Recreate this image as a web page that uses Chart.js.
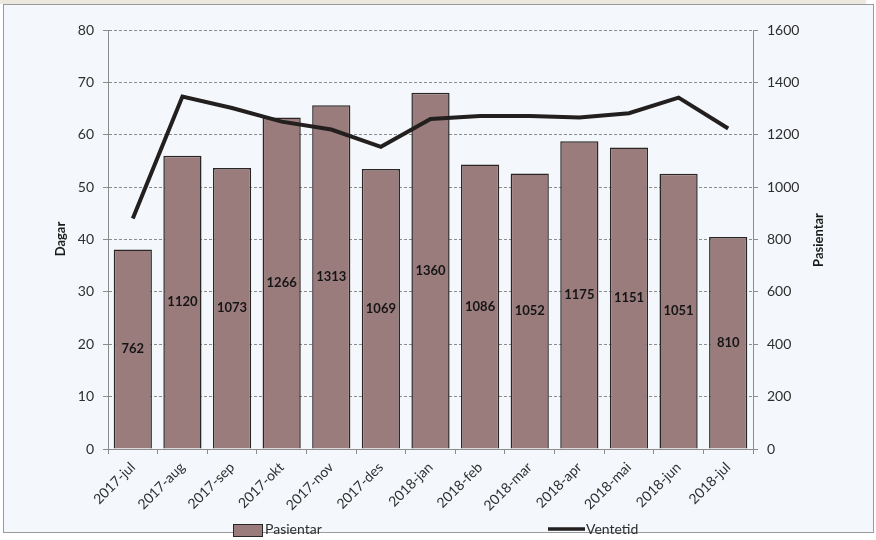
<!DOCTYPE html>
<html>
<head>
<meta charset="utf-8">
<script src="https://cdn.jsdelivr.net/npm/chart.js@4/dist/chart.umd.min.js"></script>
<style>
  html, body { margin: 0; padding: 0; background: #ffffff; }
  #wrap { position: relative; width: 876px; height: 540px; }
</style>
</head>
<body>
<div id="wrap"><canvas id="c" width="876" height="540"></canvas></div>
<script>
const categories = ['2017-jul','2017-aug','2017-sep','2017-okt','2017-nov','2017-des','2018-jan','2018-feb','2018-mar','2018-apr','2018-mai','2018-jun','2018-jul'];
const pasientar = [762, 1120, 1073, 1266, 1313, 1069, 1360, 1086, 1052, 1175, 1151, 1051, 810];
const ventetid = [44.0, 67.3, 65.1, 62.5, 61.0, 57.7, 63.0, 63.6, 63.6, 63.3, 64.1, 67.1, 61.2];
const leftTicks = { min: 0, max: 80, step: 10 };
const rightTicks = { min: 0, max: 1600, step: 200 };
const seriesNames = { bars: 'Pasientar', line: 'Ventetid' };
const axisTitles = { left: 'Dagar', right: 'Pasientar' };

const BAR_FILL = '#9B7C7C';
const BAR_EDGE = '#2a2626';
const LINE_COL = '#231f1f';
const GRID_COL = '#8c8c8c';
const TEXT_COL = '#2e2e2e';
const FONT = 'Lato, "Open Sans", sans-serif';

const frame = {
  id: 'frame',
  beforeDraw(chart) {
    const ctx = chart.ctx;
    ctx.save();
    ctx.fillStyle = '#ffffff';
    ctx.fillRect(0, 0, chart.width, chart.height);
    ctx.fillStyle = '#ede8dd';
    ctx.fillRect(0, 0, 866, 4);
    ctx.fillStyle = '#f4f7fb';
    ctx.fillRect(3, 4, 871, 529);
    ctx.strokeStyle = '#9a9a9a';
    ctx.lineWidth = 1;
    ctx.strokeRect(3.5, 4.5, 870, 528);
    ctx.restore();
  },
  afterDraw(chart) {
    const ctx = chart.ctx;
    ctx.save();
    ctx.fillStyle = '#1a1a1a';
    ctx.font = 'bold 13px ' + FONT;
    ctx.textAlign = 'center';
    ctx.textBaseline = 'middle';
    ctx.translate(61, 239);
    ctx.rotate(-Math.PI / 2);
    ctx.fillText(axisTitles.left, 0, 0);
    ctx.restore();
    ctx.save();
    ctx.fillStyle = '#1a1a1a';
    ctx.font = 'bold 13px ' + FONT;
    ctx.textAlign = 'center';
    ctx.textBaseline = 'middle';
    ctx.translate(819, 240);
    ctx.rotate(-Math.PI / 2);
    ctx.fillText(axisTitles.right, 0, 0);
    ctx.restore();
    ctx.save();
    ctx.fillStyle = BAR_FILL;
    ctx.fillRect(233, 524, 29, 12);
    ctx.strokeStyle = BAR_EDGE;
    ctx.lineWidth = 1;
    ctx.strokeRect(233.5, 524.5, 29, 12);
    ctx.strokeStyle = LINE_COL;
    ctx.lineWidth = 3.5;
    ctx.beginPath();
    ctx.moveTo(548, 529);
    ctx.lineTo(585, 529);
    ctx.stroke();
    ctx.fillStyle = TEXT_COL;
    ctx.font = '14px ' + FONT;
    ctx.textAlign = 'left';
    ctx.textBaseline = 'top';
    ctx.fillText(seriesNames.bars, 265, 522);
    ctx.fillText(seriesNames.line, 586, 522);
    ctx.restore();
  }
};

const barLabels = {
  id: 'barLabels',
  afterDatasetsDraw(chart) {
    const ctx = chart.ctx;
    const meta = chart.getDatasetMeta(1);
    ctx.save();
    ctx.fillStyle = '#151515';
    ctx.font = 'bold 13px ' + FONT;
    ctx.textAlign = 'center';
    ctx.textBaseline = 'middle';
    meta.data.forEach((el, i) => {
      ctx.fillText(String(pasientar[i]), el.x, (el.y + el.base) / 2);
    });
    ctx.restore();
  }
};

new Chart(document.getElementById('c'), {
  data: {
    labels: categories,
    datasets: [
      {
        type: 'line',
        label: seriesNames.line,
        data: ventetid,
        yAxisID: 'y',
        borderColor: LINE_COL,
        borderWidth: 4,
        pointRadius: 0,
        tension: 0,
        order: 1
      },
      {
        type: 'bar',
        label: seriesNames.bars,
        data: pasientar,
        yAxisID: 'y1',
        backgroundColor: BAR_FILL,
        borderColor: BAR_EDGE,
        borderWidth: 1.5,
        barPercentage: 0.77,
        categoryPercentage: 1.0,
        order: 2
      }
    ]
  },
  options: {
    responsive: false,
    animation: false,
    devicePixelRatio: 1,
    layout: { padding: { top: 30, left: 0, right: 0, bottom: 0 } },
    plugins: {
      legend: { display: false },
      tooltip: { enabled: false }
    },
    scales: {
      x: {
        offset: true,
        grid: { display: true, drawOnChartArea: false, drawTicks: true, tickLength: 5, color: GRID_COL, offset: true },
        border: { color: GRID_COL },
        ticks: { maxRotation: 45, minRotation: 45, autoSkip: false, padding: 5, color: TEXT_COL, font: { family: FONT, size: 14 } },
        afterFit(s) { s.height = 91; }
      },
      y: {
        position: 'left',
        min: leftTicks.min,
        max: leftTicks.max,
        ticks: { stepSize: leftTicks.step, padding: 9, color: TEXT_COL, font: { family: FONT, size: 14 }, callback: v => String(v) },
        grid: { color: GRID_COL, tickLength: 5, tickColor: GRID_COL },
        border: { color: GRID_COL, dash: [3, 2] },
        afterFit(s) { s.width = 108; }
      },
      y1: {
        position: 'right',
        min: rightTicks.min,
        max: rightTicks.max,
        ticks: { stepSize: rightTicks.step, padding: 9, color: TEXT_COL, font: { family: FONT, size: 14 }, callback: v => String(v) },
        grid: { drawOnChartArea: false, tickLength: 5, color: GRID_COL },
        border: { color: GRID_COL },
        afterFit(s) { s.width = 123; }
      }
    }
  },
  plugins: [frame, barLabels]
});
</script>
</body>
</html>
